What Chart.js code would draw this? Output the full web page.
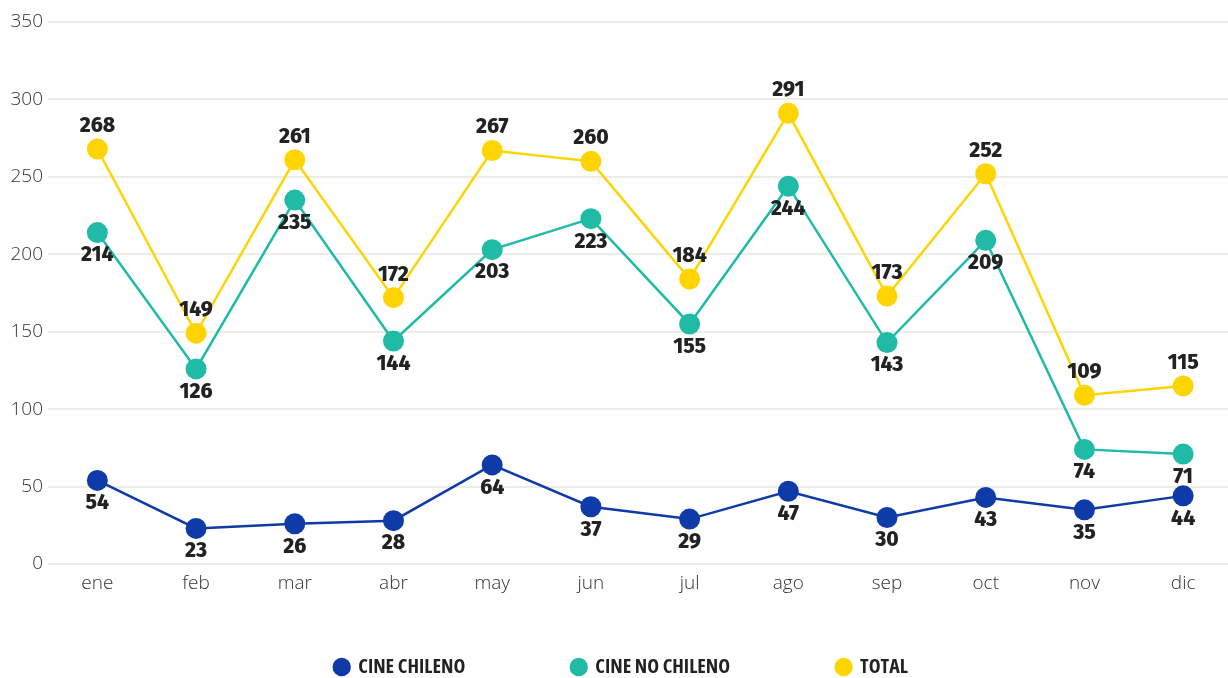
<!DOCTYPE html>
<html>
<head>
<meta charset="utf-8">
<script src="https://cdn.jsdelivr.net/npm/chart.js@4/dist/chart.umd.min.js"></script>
<style>
  html, body { margin: 0; padding: 0; background: #ffffff; overflow: hidden; }
  #wrap { position: absolute; left: 0; top: 0; width: 1243px; height: 678px; }
</style>
</head>
<body>
<div id="wrap"><canvas id="c" width="1243" height="678"></canvas></div>
<script>
const months = ['ene','feb','mar','abr','may','jun','jul','ago','sep','oct','nov','dic'];
const cineChileno = [54, 23, 26, 28, 64, 37, 29, 47, 30, 43, 35, 44];
const cineNoChileno = [214, 126, 235, 144, 203, 223, 155, 244, 143, 209, 74, 71];
const total = [268, 149, 261, 172, 267, 260, 184, 291, 173, 252, 109, 115];
const seriesNames = ['CINE CHILENO', 'CINE NO CHILENO', 'TOTAL'];
const yTicks = [0, 50, 100, 150, 200, 250, 300, 350];

const colors = ['#0E3BA8', '#1FBBA6', '#FFD400'];
const labelOffsets = [23, 23, -23];

const LEGEND_PAD = 107;
const LEGEND_H = 30;

const valueLabels = {
  id: 'valueLabels',
  afterDatasetDraw(chart, args) {
    const ctx = chart.ctx;
    const i = args.index;
    const meta = args.meta;
    const ds = chart.data.datasets[i];
    ctx.save();
    ctx.font = '800 21px "Fira Sans", "Open Sans", Roboto, sans-serif';
    ctx.fillStyle = '#222222';
    ctx.textAlign = 'center';
    ctx.textBaseline = 'middle';
    meta.data.forEach((pt, j) => {
      ctx.fillText(String(ds.data[j]), pt.x, pt.y + labelOffsets[i]);
    });
    ctx.restore();
  }
};

// keep wide horizontal spacing between legend items without a tall legend box
const legendSpacing = {
  id: 'legendSpacing',
  afterInit(chart) {
    const lg = chart.legend;
    if (!lg) return;
    const fit = lg.fit;
    lg.fit = function () { fit.call(this); this.height = LEGEND_H; };
    const draw = lg._draw;
    lg._draw = function () {
      const t = this.top;
      this.top = t - LEGEND_PAD + 9;
      draw.call(this);
      this.top = t;
    };
  }
};

const mk = (label, data, color) => ({
  label: label,
  data: data,
  borderColor: color,
  backgroundColor: color,
  pointBackgroundColor: color,
  pointBorderColor: color,
  borderWidth: 2.5,
  pointRadius: 10.5,
  pointBorderWidth: 0,
  pointHoverRadius: 10.5,
  tension: 0,
  fill: false
});

new Chart(document.getElementById('c'), {
  type: 'line',
  data: {
    labels: months,
    datasets: [
      mk(seriesNames[0], cineChileno, colors[0]),
      mk(seriesNames[1], cineNoChileno, colors[1]),
      mk(seriesNames[2], total, colors[2])
    ]
  },
  options: {
    responsive: false,
    devicePixelRatio: 1,
    animation: false,
    layout: { padding: { top: 22, left: 0, right: 0, bottom: 0 } },
    plugins: {
      tooltip: { enabled: false },
      legend: {
        position: 'bottom',
        labels: {
          usePointStyle: true,
          pointStyle: 'circle',
          boxWidth: 13,
          boxHeight: 13,
          padding: LEGEND_PAD,
          color: '#222222',
          font: { family: '"Open Sans", "DejaVu Sans", sans-serif', size: 20, weight: 'bold condensed' }
        }
      }
    },
    scales: {
      x: {
        offset: true,
        grid: { display: false, drawTicks: false },
        border: { display: false },
        ticks: {
          padding: 8,
          color: '#333333',
          font: { family: '"Open Sans", Lato, sans-serif', size: 19, weight: 300 }
        },
        afterFit(scale) { scale.height = 678 - LEGEND_H - 564; }
      },
      y: {
        min: 0,
        max: 350,
        afterBuildTicks(scale) { scale.ticks = yTicks.map(v => ({ value: v })); },
        grid: { color: '#EDECE7', lineWidth: 2, drawTicks: false },
        border: { display: false },
        ticks: {
          padding: 5,
          color: '#333333',
          font: { family: '"Open Sans", Lato, sans-serif', size: 19, weight: 300 }
        },
        afterFit(scale) { scale.width = 48; }
      }
    }
  },
  plugins: [valueLabels, legendSpacing]
});
</script>
</body>
</html>
